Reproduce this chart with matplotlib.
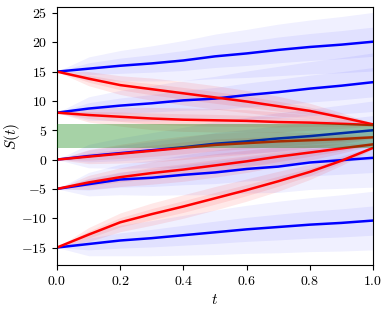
import matplotlib
matplotlib.use("Agg")
import matplotlib.pyplot as plt
import numpy as np

plt.rcParams['font.family'] = 'serif'
plt.rcParams['font.serif'] = ['cmr10']
plt.rcParams['mathtext.fontset'] = 'cm'
plt.rcParams['axes.formatter.use_mathtext'] = True
plt.rcParams['axes.unicode_minus'] = True

# time grid (read at every 0.1)
t = [0.0, 0.1, 0.2, 0.3, 0.4, 0.5, 0.6, 0.7, 0.8, 0.9, 1.0]

# mean of the free paths (blue), one per start value
blue_15 = [15.0, 15.5, 16.0, 16.4, 16.9, 17.6, 18.1, 18.7, 19.2, 19.6, 20.1]
blue_8 = [8.0, 8.7, 9.2, 9.6, 10.1, 10.4, 11.0, 11.5, 12.1, 12.6, 13.2]
blue_0 = [0.0, 0.6, 1.1, 1.6, 2.1, 2.7, 3.1, 3.6, 4.0, 4.5, 5.0]
blue_m5 = [-5.0, -4.2, -3.4, -3.1, -2.6, -2.2, -1.6, -1.2, -0.5, -0.1, 0.3]
blue_m15 = [-15.0, -14.4, -13.8, -13.4, -12.9, -12.4, -11.9, -11.5, -11.1, -10.8, -10.4]

# mean of the conditioned paths (red)
red_15 = [15.0, 13.8, 12.7, 12.0, 11.3, 10.6, 9.9, 9.1, 8.3, 7.2, 6.0]
red_8 = [8.0, 7.6, 7.3, 7.0, 6.8, 6.7, 6.6, 6.4, 6.3, 6.1, 5.9]
red_0 = [0.0, 0.5, 1.0, 1.5, 2.0, 2.5, 2.8, 3.1, 3.3, 3.5, 3.8]
red_m5 = [-5.0, -3.9, -3.0, -2.3, -1.7, -1.0, -0.3, 0.5, 1.2, 1.9, 2.6]
red_m15 = [-15.0, -12.8, -10.7, -9.3, -8.0, -6.6, -5.2, -3.7, -2.1, -0.2, 2.0]

# half width of the faint path clouds round each mean
blue_spread = [0.0, 2.0, 2.6, 3.0, 3.4, 3.8, 4.1, 4.4, 4.6, 4.8, 5.0]
red_spread = [0.0, 1.2, 1.6, 1.9, 2.0, 2.0, 1.9, 1.7, 1.3, 0.8, 0.2]

# target band
band_lo, band_hi = 2, 6

blue_means = [blue_15, blue_8, blue_0, blue_m5, blue_m15]
red_means = [red_15, red_8, red_0, red_m5, red_m15]

fig = plt.figure(figsize=(3.89, 3.09), dpi=100)
ax = fig.add_axes([0.1465, 0.142, 0.8125, 0.835])

def cloud(mean, spread, color, a):
    mean = np.array(mean)
    spread = np.array(spread)
    ax.fill_between(t, mean - spread, mean + spread, color=color,
                    alpha=a, lw=0)
    ax.fill_between(t, mean - 0.5 * spread, mean + 0.5 * spread,
                    color=color, alpha=a, lw=0)

for m in blue_means:
    cloud(m, blue_spread, 'blue', 0.06)
for m in red_means:
    cloud(m, red_spread, 'red', 0.09)

for m in blue_means:
    ax.plot(t, m, color='blue', lw=1.8)
for m in red_means:
    ax.plot(t, m, color='red', lw=1.8)

ax.axhspan(band_lo, band_hi, color='green', alpha=0.35, lw=0, zorder=5)

ax.set_xlim(0, 1)
ax.set_ylim(-18, 26)
ax.set_xticks([0.0, 0.2, 0.4, 0.6, 0.8, 1.0])
ax.set_yticks([-15, -10, -5, 0, 5, 10, 15, 20, 25])
ax.tick_params(labelsize=10, length=3.5)
ax.set_xlabel('$t$', fontsize=11)
ax.set_ylabel('$S(t)$', fontsize=11)
ax.yaxis.set_label_coords(-0.112, 0.5)

fig.savefig('out.png', dpi=100)
